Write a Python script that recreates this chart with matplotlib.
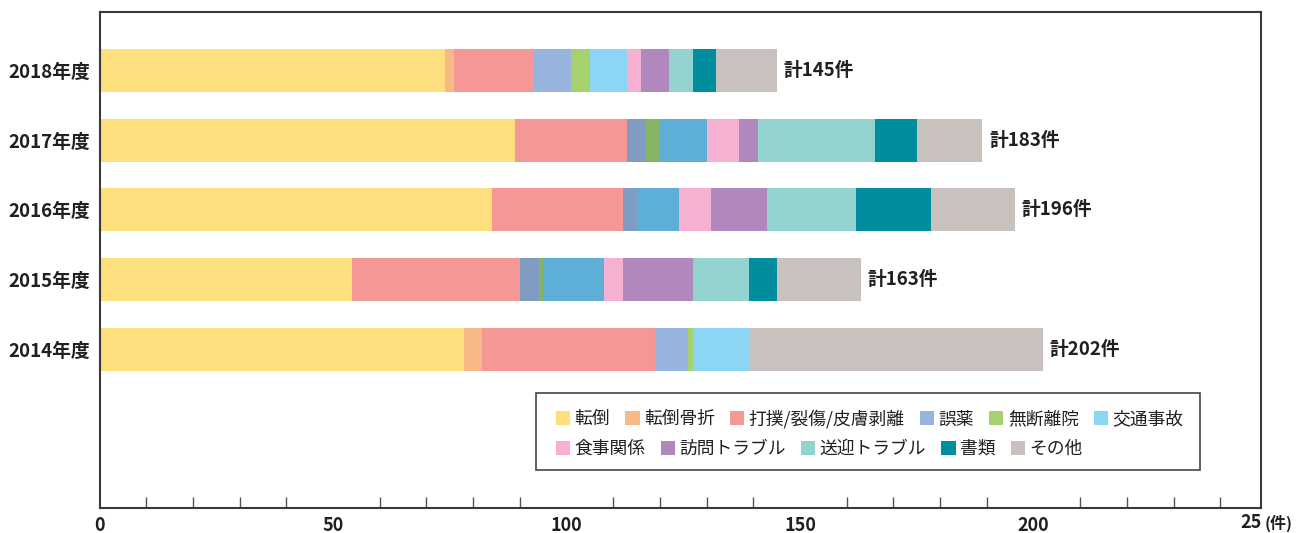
import matplotlib
matplotlib.use("Agg")
import matplotlib.pyplot as plt
from matplotlib.patches import Rectangle

plt.rcParams['font.family'] = ['Noto Sans CJK JP', 'DejaVu Sans']

# ---------------- data ----------------
years = ["2018年度", "2017年度", "2016年度", "2015年度", "2014年度"]
totals = [145, 183, 196, 163, 202]
categories = ["転倒", "転倒骨折", "打撲/裂傷/皮膚剥離", "誤薬", "無断離院", "交通事故",
              "食事関係", "訪問トラブル", "送迎トラブル", "書類", "その他"]

# values per category, order follows `years`
v_tentou   = [74, 89, 84, 54, 78]
v_kossetsu = [2, 0, 0, 0, 4]
v_daboku   = [17, 24, 28, 36, 37]
v_goyaku   = [8, 4, 3, 4, 7]
v_mudan    = [4, 3, 0, 1, 1]
v_koutsuu  = [8, 10, 9, 13, 12]
v_shokuji  = [3, 7, 7, 4, 0]
v_houmon   = [6, 4, 12, 15, 0]
v_sougei   = [5, 25, 19, 12, 0]
v_shorui   = [5, 9, 16, 6, 0]
v_sonota   = [13, 14, 18, 18, 63]

series = [v_tentou, v_kossetsu, v_daboku, v_goyaku, v_mudan, v_koutsuu,
          v_shokuji, v_houmon, v_sougei, v_shorui, v_sonota]

x_ticks = [0, 50, 100, 150, 200]
x_minor = list(range(10, 250, 10))

# ---------------- style ----------------
colors = ["#fddf7e", "#f9b986", "#f49795", "#96b4dd", "#a5d16f", "#8cd6f5",
          "#f6b1d2", "#b088bd", "#92d3cf", "#008e9e", "#c9c1be"]
# darker shades used in 2015-2017 rows for 誤薬 / 無断離院 / 交通事故
alt_colors = {3: "#819cc3", 4: "#86b462", 5: "#5eafd5"}
alt_rows = {1, 2, 3}
txt = "#231f20"

W, H = 1301, 533
fig = plt.figure(figsize=(W / 100, H / 100), dpi=100)
ax = fig.add_axes([99.5 / W, (H - 508) / H, (1261 - 99.5) / W, (508 - 12) / H])

ypos = list(range(len(years)))
bar_h = 0.62
left = [0] * len(years)
handles = []
for ci, (cat, vals) in enumerate(zip(categories, series)):
    cols = [alt_colors.get(ci, colors[ci]) if r in alt_rows else colors[ci]
            for r in range(len(years))]
    ax.barh(ypos, vals, left=left, height=bar_h, color=cols,
            linewidth=0, label=cat)
    handles.append(Rectangle((0, 0), 1, 1, color=colors[ci], linewidth=0))
    left = [l + v for l, v in zip(left, vals)]

for y, end, tot in zip(ypos, left, totals):
    ax.text(end + 1.5, y, f"計{tot}件", va="center", ha="left",
            fontsize=13.5, fontweight="bold", color=txt)

ax.set_xlim(0, 248.7)
ax.set_ylim(6.28, -0.84)
ax.set_yticks(ypos)
ax.set_yticklabels(years, fontsize=13.5, fontweight="bold", color=txt)
ax.tick_params(axis="y", length=0, pad=7)

ax.set_xticks(x_ticks)
ax.set_xticklabels([str(t) for t in x_ticks], fontsize=13, fontweight="bold",
                   color=txt)
ax.set_xticks(x_minor, minor=True)
ax.tick_params(axis="x", which="both", direction="in", length=8, width=1,
               color="#555555", pad=6)
ax.tick_params(axis="x", which="major", length=0)
for s in ax.spines.values():
    s.set_color("#3a3a3a")
    s.set_linewidth(1.5)

fig.text(1262 / W, (H - 523) / H, "25", ha="right", va="center",
         fontsize=13, fontweight="bold", color=txt)
fig.text(1265 / W, (H - 523) / H, "(件)", ha="left", va="center",
         fontsize=11.5, fontweight="bold", color=txt)

# legend frame
fig.patches.append(Rectangle((536 / W, (H - 470) / H), 664 / W, 77 / H,
                             transform=fig.transFigure, fill=False,
                             edgecolor="#444444", linewidth=1.2))

row1 = [0, 1, 2, 3, 4, 5]
row2 = [6, 7, 8, 9, 10]
common = dict(frameon=False, handlelength=0.8, handleheight=0.8,
              handletextpad=0.25, columnspacing=0.85, borderpad=0,
              borderaxespad=0, loc="center left",
              prop={"family": ["Noto Sans CJK JP", "DejaVu Sans"], "size": 12.8},
              labelcolor=txt)
fig.legend([handles[i] for i in row1], [categories[i] for i in row1],
           ncol=len(row1), bbox_to_anchor=(556 / W, (H - 419) / H), **common)
fig.legend([handles[i] for i in row2], [categories[i] for i in row2],
           ncol=len(row2), bbox_to_anchor=(556 / W, (H - 449) / H), **common)

fig.savefig("out.png", dpi=100)
